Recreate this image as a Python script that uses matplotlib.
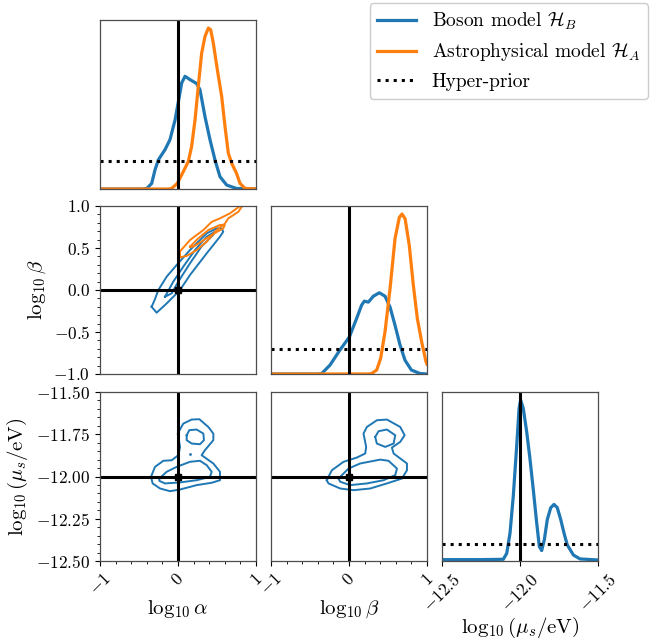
import numpy as np
import matplotlib
matplotlib.use("Agg")
import matplotlib.pyplot as plt
from matplotlib.lines import Line2D
from matplotlib.ticker import AutoMinorLocator, MultipleLocator

plt.rcParams['font.family'] = 'serif'
plt.rcParams['font.serif'] = ['cmr10']
plt.rcParams['mathtext.fontset'] = 'cm'
plt.rcParams['axes.formatter.use_mathtext'] = True
plt.rcParams['axes.unicode_minus'] = True
plt.rcParams['lines.solid_joinstyle'] = 'round'

blue = '#1f77b4'
orange = '#ff7f0e'

# true values
alpha_true = 0.0
beta_true = 0.0
mu_true = -12.0

# 1D marginals
alpha_x_B = [-1.0, -0.45, -0.40, -0.337, -0.295, -0.252, -0.167, -0.103, -0.038, 0.017, 0.047, 0.09, 0.154,
             0.24, 0.282, 0.346, 0.41, 0.474, 0.538, 0.624, 0.75, 1.0]
alpha_p_B = [0.0, 0.0, 0.01, 0.10, 0.34, 0.52, 0.70, 0.88, 1.23, 1.65, 1.89, 2.01, 1.95,
             1.88, 1.77, 1.29, 0.88, 0.52, 0.22, 0.07, 0.01, 0.0]
alpha_x_A = [-1.0, -0.12, -0.081, -0.009, 0.068, 0.132, 0.175, 0.218, 0.26, 0.303, 0.346, 0.389, 0.419,
             0.453, 0.504, 0.56, 0.603, 0.645, 0.688, 0.75, 0.795, 0.86, 1.0]
alpha_p_A = [0.0, 0.0, 0.01, 0.10, 0.31, 0.49, 0.76, 1.23, 1.83, 2.42, 2.72, 2.87, 2.84,
             2.60, 2.13, 1.65, 1.11, 0.64, 0.46, 0.28, 0.10, 0.01, 0.0]

beta_x_B = [-1.0, -0.40, -0.35, -0.244, -0.115, 0.004, 0.098, 0.162, 0.197, 0.248, 0.312, 0.389, 0.462,
            0.526, 0.59, 0.654, 0.718, 0.80, 0.91, 1.0]
beta_p_B = [0.0, 0.0, 0.01, 0.18, 0.49, 0.75, 1.13, 1.40, 1.48, 1.46, 1.58, 1.65, 1.58,
            1.36, 0.99, 0.59, 0.28, 0.08, 0.01, 0.0]
beta_x_A = [-1.0, 0.25, 0.29, 0.355, 0.406, 0.462, 0.526, 0.59, 0.645, 0.68, 0.72, 0.773, 0.825,
            0.876, 0.932, 0.987, 1.0]
beta_p_A = [0.0, 0.0, 0.01, 0.08, 0.32, 0.86, 1.73, 2.75, 3.18, 3.25, 3.15, 2.61, 1.80,
            1.13, 0.65, 0.25, 0.20]

mu_x_B = [-12.5, -12.256, -12.107, -12.085, -12.064, -12.043, -12.021, -12.006, -11.996, -11.979, -11.957,
          -11.936, -11.915, -11.893, -11.876, -11.861, -11.844, -11.825, -11.803, -11.782, -11.761, -11.739,
          -11.718, -11.697, -11.658, -11.615, -11.5]
mu_p_B = [0.08, 0.08, 0.10, 0.45, 1.63, 3.79, 6.74, 8.90, 9.39, 8.90, 7.53,
          5.95, 4.18, 2.22, 0.84, 0.61, 1.24, 2.42, 3.11, 3.30, 3.11, 2.42,
          1.63, 0.94, 0.35, 0.12, 0.06]

# hyper-prior densities (uniform)
prior_alpha = 0.5
prior_beta = 0.5
prior_mu = 1.0

# 2D credible contours (alpha, beta)
ab_B_outer_a = [-0.338, -0.274, -0.145, 0.026, 0.154, 0.368, 0.538, 0.58, 0.56, 0.496, 0.368, 0.154, -0.017,
                -0.145, -0.252, -0.30, -0.338]
ab_B_outer_b = [-0.20, -0.27, -0.16, 0.0, 0.179, 0.437, 0.635, 0.694, 0.734, 0.734, 0.675, 0.476, 0.298,
                0.159, 0.0, -0.12, -0.20]
ab_B_inner_a = [-0.167, -0.06, 0.068, 0.218, 0.368, 0.474, 0.45, 0.30, 0.154, 0.004, -0.081, -0.167]
ab_B_inner_b = [-0.08, 0.10, 0.278, 0.476, 0.635, 0.694, 0.655, 0.516, 0.318, 0.10, -0.04, -0.08]
ab_A_outer_a = [0.026, 0.026, 0.154, 0.325, 0.43, 0.538, 0.667, 0.795, 0.86, 0.773, 0.645, 0.60, 0.496,
                0.368, 0.24, 0.111, 0.026]
ab_A_outer_b = [0.39, 0.46, 0.595, 0.714, 0.81, 0.853, 0.913, 1.0, 1.05, 0.93, 0.853, 0.79, 0.714,
                0.575, 0.476, 0.405, 0.39]
ab_A_inner_a = [0.154, 0.26, 0.389, 0.538, 0.60, 0.58, 0.43, 0.30, 0.196, 0.154]
ab_A_inner_b = [0.516, 0.615, 0.714, 0.774, 0.774, 0.734, 0.655, 0.575, 0.516, 0.516]

# (alpha, mu)
am_outer_a = [-0.346, -0.295, -0.188, -0.081, 0.004, 0.026, -0.004, 0.068, 0.175, 0.274, 0.389, 0.453, 0.453, 0.346,
              0.303, 0.453, 0.538, 0.538, 0.432, 0.239, 0.026, -0.103, -0.23, -0.325, -0.346]
am_outer_m = [-12.002, -11.943, -11.907, -11.904, -11.874, -11.825, -11.746, -11.687, -11.663, -11.661, -11.707, -11.746,
              -11.785, -11.844, -11.874, -11.923, -11.972, -12.022, -12.037, -12.051, -12.077, -12.087, -12.071, -12.041, -12.002]
am_inner_a = [-0.239, -0.145, -0.017, 0.154, 0.282, 0.368, 0.432, 0.41, 0.239, 0.026, -0.167, -0.239, -0.239]
am_inner_m = [-12.012, -11.972, -11.943, -11.913, -11.907, -11.933, -11.972, -12.002, -12.022, -12.035, -12.041, -12.026, -12.012]
am_top_a = [0.111, 0.145, 0.239, 0.325, 0.333, 0.282, 0.175, 0.111, 0.111]
am_top_m = [-11.756, -11.726, -11.722, -11.746, -11.785, -11.809, -11.805, -11.785, -11.756]

# (beta, mu)
bm_outer_b = [-0.285, -0.22, -0.07, 0.10, 0.208, 0.22, 0.186, 0.229, 0.358, 0.486, 0.657, 0.713, 0.657, 0.55,
              0.572, 0.743, 0.743, 0.679, 0.486, 0.272, 0.058, -0.113, -0.263, -0.285]
bm_outer_m = [-12.022, -11.963, -11.913, -11.888, -11.864, -11.825, -11.746, -11.707, -11.667, -11.663, -11.707, -11.756,
              -11.795, -11.829, -11.864, -11.923, -11.963, -12.012, -12.041, -12.071, -12.081, -12.071, -12.041, -12.022]
bm_inner_b = [-0.135, -0.006, 0.143, 0.40, 0.507, 0.615, 0.593, 0.443, 0.229, 0.015, -0.113, -0.135]
bm_inner_m = [-12.012, -11.953, -11.923, -11.90, -11.907, -11.953, -11.992, -12.022, -12.041, -12.051, -12.031, -12.012]
bm_top_b = [0.336, 0.379, 0.486, 0.593, 0.572, 0.465, 0.357, 0.336]
bm_top_m = [-11.766, -11.732, -11.722, -11.756, -11.805, -11.825, -11.805, -11.766]

fig = plt.figure(figsize=(6.54, 6.39), dpi=100)
W, H = 654.0, 639.0
cols = [100, 271, 442]
rows = [(20, 189), (206, 374), (392, 561)]
aw = 156

def make_ax(r, c):
    top, bot = rows[r]
    return fig.add_axes([cols[c] / W, (H - bot) / H, aw / W, (bot - top) / H])

def frame(ax):
    for s in ax.spines.values():
        s.set_color('0.3')
        s.set_linewidth(0.9)

lw1 = 2.3
lwc = 1.4
lwt = 2.2
tfs = 12.5
lfs = 15
arange = (-1, 1)
mrange = (-12.5, -11.5)

# diagonal alpha
ax = make_ax(0, 0)
ax.plot(alpha_x_B, alpha_p_B, color=blue, lw=lw1)
ax.plot(alpha_x_A, alpha_p_A, color=orange, lw=lw1)
ax.axhline(prior_alpha, color='k', ls=':', lw=lwt)
ax.axvline(alpha_true, color='k', lw=lwt)
ax.set_xlim(arange)
ax.set_ylim(0, 1.05 * max(alpha_p_A))
ax.set_xticks([]); ax.set_yticks([])
frame(ax)

# diagonal beta
ax = make_ax(1, 1)
ax.plot(beta_x_B, beta_p_B, color=blue, lw=lw1)
ax.plot(beta_x_A, beta_p_A, color=orange, lw=lw1)
ax.axhline(prior_beta, color='k', ls=':', lw=lwt)
ax.axvline(beta_true, color='k', lw=lwt)
ax.set_xlim(arange)
ax.set_ylim(0, 1.05 * max(beta_p_A))
ax.set_xticks([]); ax.set_yticks([])
frame(ax)

# diagonal mu
ax = make_ax(2, 2)
ax.plot(mu_x_B, mu_p_B, color=blue, lw=lw1)
ax.axhline(prior_mu, color='k', ls=':', lw=lwt)
ax.axvline(mu_true, color='k', lw=lwt)
ax.set_xlim(mrange)
ax.set_ylim(0, 1.05 * max(mu_p_B))
ax.set_yticks([])
ax.set_xticks([-12.5, -12.0, -11.5])
ax.set_xticklabels(['$-12.5$', '$-12.0$', '$-11.5$'], rotation=45, fontsize=tfs)
ax.set_xlabel(r'$\log_{10}\left(\mu_s/\mathrm{eV}\right)$', fontsize=lfs, labelpad=0)
frame(ax)

# alpha-beta
ax = make_ax(1, 0)
ax.plot(ab_B_outer_a, ab_B_outer_b, color=blue, lw=lwc)
ax.plot(ab_B_inner_a, ab_B_inner_b, color=blue, lw=lwc)
ax.plot(ab_A_outer_a, ab_A_outer_b, color=orange, lw=lwc)
ax.plot(ab_A_inner_a, ab_A_inner_b, color=orange, lw=lwc)
ax.axvline(alpha_true, color='k', lw=lwt)
ax.axhline(beta_true, color='k', lw=lwt)
ax.plot(alpha_true, beta_true, 's', color='k', ms=5)
ax.set_xlim(arange); ax.set_ylim(arange)
ax.set_xticks([])
ax.yaxis.set_major_locator(MultipleLocator(0.5))
ax.yaxis.set_minor_locator(AutoMinorLocator(5))
ax.tick_params(axis='y', labelsize=tfs)
ax.set_ylabel(r'$\log_{10}\beta$', fontsize=lfs)
frame(ax)

# alpha-mu
ax = make_ax(2, 0)
ax.plot(am_outer_a, am_outer_m, color=blue, lw=lwc)
ax.plot(am_inner_a, am_inner_m, color=blue, lw=lwc)
ax.plot(am_top_a, am_top_m, color=blue, lw=lwc)
ax.plot([0.15], [-11.864], '.', color=blue, ms=2)
ax.axvline(alpha_true, color='k', lw=lwt)
ax.axhline(mu_true, color='k', lw=lwt)
ax.plot(alpha_true, mu_true, 's', color='k', ms=5)
ax.set_xlim(arange); ax.set_ylim(mrange)
ax.set_xticks([-1, 0, 1])
ax.set_xticklabels(['$-1$', '$0$', '$1$'], rotation=45, fontsize=tfs)
ax.xaxis.set_minor_locator(AutoMinorLocator(5))
ax.yaxis.set_major_locator(MultipleLocator(0.25))
ax.yaxis.set_minor_locator(AutoMinorLocator(5))
ax.tick_params(axis='y', labelsize=tfs)
ax.set_xlabel(r'$\log_{10}\alpha$', fontsize=lfs, labelpad=0)
ax.set_ylabel(r'$\log_{10}\left(\mu_s/\mathrm{eV}\right)$', fontsize=lfs)
frame(ax)

# beta-mu
ax = make_ax(2, 1)
ax.plot(bm_outer_b, bm_outer_m, color=blue, lw=lwc)
ax.plot(bm_inner_b, bm_inner_m, color=blue, lw=lwc)
ax.plot(bm_top_b, bm_top_m, color=blue, lw=lwc)
ax.axvline(beta_true, color='k', lw=lwt)
ax.axhline(mu_true, color='k', lw=lwt)
ax.plot(beta_true, mu_true, 's', color='k', ms=5)
ax.set_xlim(arange); ax.set_ylim(mrange)
ax.set_yticks([])
ax.set_xticks([-1, 0, 1])
ax.set_xticklabels(['$-1$', '$0$', '$1$'], rotation=45, fontsize=tfs)
ax.xaxis.set_minor_locator(AutoMinorLocator(5))
ax.set_xlabel(r'$\log_{10}\beta$', fontsize=lfs, labelpad=0)
frame(ax)

handles = [Line2D([], [], color=blue, lw=lw1),
           Line2D([], [], color=orange, lw=lw1),
           Line2D([], [], color='k', ls=':', lw=lwt)]
labels = [r'Boson model $\mathcal{H}_B$', r'Astrophysical model $\mathcal{H}_A$', 'Hyper-prior']
fig.legend(handles, labels, loc='upper right', bbox_to_anchor=(1.0058, 1.011), fontsize=14, framealpha=1)

fig.savefig('out.png', dpi=100)
